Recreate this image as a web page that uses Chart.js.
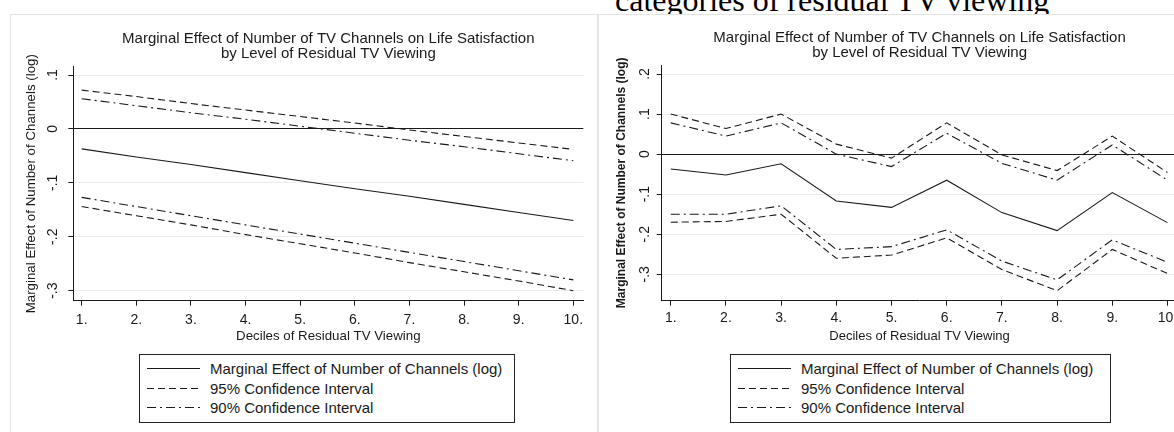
<!DOCTYPE html>
<html>
<head>
<meta charset="utf-8">
<script src="https://cdn.jsdelivr.net/npm/chart.js@4.4.1/dist/chart.umd.min.js"></script>
<style>
	html, body { margin: 0; padding: 0; background: #fff; }
	body { width: 1174px; height: 432px; overflow: hidden; position: relative; font-family: "Liberation Sans", Arial, sans-serif; }
	.panel { position: absolute; border: 1.5px solid #e4e4e4; background: #fff; }
	canvas { position: absolute; top: 0; }
	.legend { position: absolute; border: 1px solid #222; box-sizing: border-box; background: #fff; padding-top: 4px; }
	.legend .row { display: flex; align-items: center; height: 19.6px; white-space: nowrap; color: #1a1a1a; font-size: 15px; }
	.legend svg { margin-left: 7px; margin-right: 10px; flex: none; }
	.header { position: absolute; left: 615px; top: -16px; font-family: "Liberation Serif", "Times New Roman", serif; font-size: 32px; line-height: 32px; white-space: nowrap; color: #000; }
</style>
</head>
<body>
<div class="header" id="header"></div>
<div class="panel" style="left: 10px; top: 14px; width: 586px; height: 440px;"></div>
<div class="panel" style="left: 598px; top: 14px; width: 600px; height: 440px;"></div>
<canvas id="linChart" width="597" height="432" style="left: 0px;"></canvas>
<canvas id="catChart" width="600" height="432" style="left: 598px;"></canvas>
<div class="legend" id="linLegend" style="left: 139px; top: 354px; width: 376px; height: 69px;"></div>
<div class="legend" id="catLegend" style="left: 730px; top: 354px; width: 381px; height: 69px;"></div>

<script>
// deciles of residual TV viewing
const deciles = [1, 2, 3, 4, 5, 6, 7, 8, 9, 10];
const decileLabels = ["1.", "2.", "3.", "4.", "5.", "6.", "7.", "8.", "9.", "10."];

const seriesLabels = [
	"Marginal Effect of Number of Channels (log)",
	"95% Confidence Interval",
	"90% Confidence Interval"
];
const chartTitle = ["Marginal Effect of Number of TV Channels on Life Satisfaction", "by Level of Residual TV Viewing"];
const xTitle = "Deciles of Residual TV Viewing";
const yTitle = "Marginal Effect of Number of Channels (log)";
const headerText = "categories of residual TV viewing";

// left panel: linear interaction
const linTicks = [-0.3, -0.2, -0.1, 0, 0.1];
const linTickLabels = ["-.3", "-.2", "-.1", "0", ".1"];
const linEffect = [-0.037, -0.052, -0.066, -0.081, -0.096, -0.111, -0.125, -0.140, -0.155, -0.170];
const linHi95 = [0.072, 0.060, 0.047, 0.035, 0.023, 0.011, -0.002, -0.014, -0.026, -0.038];
const linLo95 = [-0.144, -0.161, -0.178, -0.196, -0.213, -0.230, -0.248, -0.265, -0.282, -0.300];
const linHi90 = [0.056, 0.043, 0.030, 0.018, 0.005, -0.008, -0.021, -0.033, -0.046, -0.059];
const linLo90 = [-0.127, -0.144, -0.161, -0.178, -0.195, -0.212, -0.229, -0.246, -0.263, -0.280];

// right panel: separate effect per decile
const catTicks = [-0.3, -0.2, -0.1, 0, 0.1, 0.2];
const catTickLabels = ["-.3", "-.2", "-.1", "0", ".1", ".2"];
const catEffect = [-0.037, -0.052, -0.024, -0.117, -0.133, -0.065, -0.146, -0.191, -0.096, -0.171];
const catHi95 = [0.100, 0.064, 0.100, 0.025, -0.010, 0.078, -0.002, -0.041, 0.045, -0.046];
const catLo95 = [-0.170, -0.168, -0.150, -0.260, -0.252, -0.209, -0.288, -0.341, -0.238, -0.298];
const catHi90 = [0.078, 0.045, 0.078, 0.000, -0.031, 0.052, -0.023, -0.065, 0.023, -0.065];
const catLo90 = [-0.150, -0.150, -0.129, -0.238, -0.231, -0.189, -0.267, -0.314, -0.214, -0.270];

const FONT = "'Liberation Sans', Arial, sans-serif";
const INK = "#1a1a1a";

document.getElementById("header").textContent = headerText;

// legend drawn as html from the datasets
const htmlLegend = {
	id: "htmlLegend",
	afterUpdate: function (chart, args, opts) {
		const box = document.getElementById(opts.containerID);
		box.innerHTML = "";
		chart.data.datasets.filter(function (ds) { return ds.inLegend; }).forEach(function (ds) {
			const row = document.createElement("div");
			row.className = "row";
			const dash = ds.borderDash.length ? ds.borderDash.join(" ") : "none";
			row.innerHTML = '<svg width="53" height="19"><line x1="0" y1="9.5" x2="53" y2="9.5" stroke="' + INK +
				'" stroke-width="1" stroke-dasharray="' + dash + '"/></svg>';
			const span = document.createElement("span");
			span.textContent = ds.label;
			row.appendChild(span);
			box.appendChild(row);
		});
	}
};

function series(values, label, dash, inLegend) {
	return {
		label: label,
		data: deciles.map(function (d, i) { return { x: d, y: values[i] }; }),
		borderColor: INK,
		borderWidth: 1.1,
		borderDash: dash,
		pointRadius: 0,
		tension: 0,
		fill: false,
		inLegend: inLegend
	};
}

function buildChart(id, c) {
	const datasets = [
		series(c.effect, seriesLabels[0], [], true),
		series(c.hi95, seriesLabels[1], [7, 4], true),
		series(c.lo95, seriesLabels[1], [7, 4], false),
		series(c.hi90, seriesLabels[2], [9, 4, 2, 4], true),
		series(c.lo90, seriesLabels[2], [9, 4, 2, 4], false)
	];
	return new Chart(document.getElementById(id), {
		type: "line",
		data: { datasets: datasets },
		plugins: [htmlLegend],
		options: {
			responsive: false,
			animation: false,
			layout: { padding: { left: 0, top: 0, right: c.padRight, bottom: c.padBottom } },
			plugins: {
				legend: { display: false },
				tooltip: { enabled: false },
				htmlLegend: { containerID: c.legendId },
				title: {
					display: true,
					text: chartTitle,
					fullSize: false,
					color: INK,
					font: { family: FONT, size: 15, weight: "normal", lineHeight: 1 },
					padding: { top: c.titleTop, bottom: c.titleBottom }
				}
			},
			scales: {
				x: {
					type: "linear",
					min: c.xMin,
					max: c.xMax,
					afterBuildTicks: function (s) { s.ticks = deciles.map(function (v) { return { value: v }; }); },
					afterFit: function (s) { s.height = 60; },
					ticks: {
						autoSkip: false,
						maxRotation: 0,
						padding: c.xTickPad,
						color: INK,
						font: { family: FONT, size: 14 },
						callback: function (v) { return decileLabels[deciles.indexOf(v)]; }
					},
					grid: { drawOnChartArea: false, drawTicks: true, tickLength: 5, tickColor: INK },
					border: { display: true, color: INK, width: 1 },
					title: {
						display: true,
						text: xTitle,
						color: INK,
						font: { family: FONT, size: c.xTitleSize, weight: "normal" },
						padding: { top: 0, bottom: c.xTitlePad }
					}
				},
				y: {
					type: "linear",
					min: c.yMin,
					max: c.yMax,
					afterBuildTicks: function (s) { s.ticks = c.yTicks.map(function (v) { return { value: v }; }); },
					afterFit: function (s) { s.width = c.yWidth; },
					ticks: {
						minRotation: 90,
						maxRotation: 90,
						crossAlign: "center",
						padding: c.yTickPad,
						color: INK,
						font: { family: FONT, size: 14 },
						callback: function (v) { return c.yTickLabels[c.yTicks.indexOf(v)]; }
					},
					grid: {
						color: function (g) { return g.tick && g.tick.value === 0 ? INK : "#ececec"; },
						lineWidth: 1,
						drawTicks: true,
						tickLength: 5,
						tickColor: INK
					},
					border: { display: true, color: INK, width: 1 },
					title: {
						display: true,
						text: yTitle,
						color: INK,
						font: { family: FONT, size: c.yTitleSize, weight: c.yTitleWeight },
						padding: { top: c.yTitlePad, bottom: 0 }
					}
				}
			}
		}
	});
}

buildChart("linChart", {
	effect: linEffect, hi95: linHi95, lo95: linLo95, hi90: linHi90, lo90: linLo90,
	yTicks: linTicks, yTickLabels: linTickLabels,
	yMin: -0.3186, yMax: 0.1154, xMin: 0.846, xMax: 10.183,
	padRight: 13.7, padBottom: 71.3, yWidth: 73.3,
	titleTop: 31.5, titleBottom: 5.2,
	xTickPad: 5.9, xTitlePad: 16.7, yTickPad: 6.6, yTitlePad: 23.7,
	xTitleSize: 13.3, yTitleSize: 13.3, yTitleWeight: "normal",
	legendId: "linLegend"
});

buildChart("catChart", {
	effect: catEffect, hi95: catHi95, lo95: catLo95, hi90: catHi90, lo90: catLo90,
	yTicks: catTicks, yTickLabels: catTickLabels,
	yMin: -0.3659, yMax: 0.2225, xMin: 0.836, xMax: 10.18,
	padRight: 20.6, padBottom: 71.3, yWidth: 63.7,
	titleTop: 30.2, titleBottom: 4.8,
	xTickPad: 4.2, xTitlePad: 16.8, yTickPad: 3, yTitlePad: 16.5,
	xTitleSize: 13, yTitleSize: 12, yTitleWeight: "bold",
	legendId: "catLegend"
});
</script>
</body>
</html>
